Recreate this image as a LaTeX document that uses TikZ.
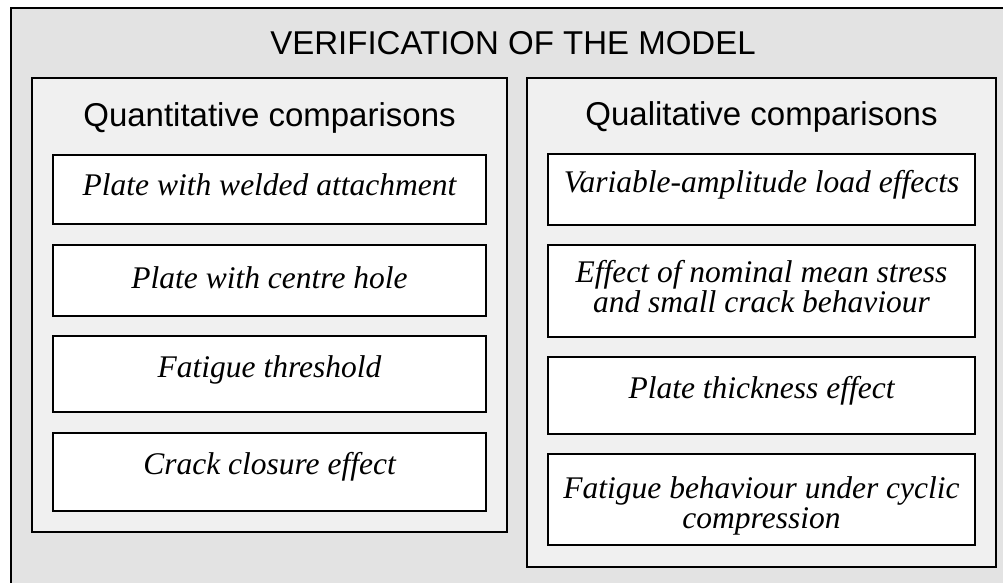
\documentclass[tikz,border=0pt]{standalone}
\usepackage{fontspec}
\setmainfont{Liberation Serif}
\newfontfamily\arialfont{Liberation Sans}
\definecolor{outergray}{RGB}{227,227,227}
\definecolor{groupgray}{RGB}{240,240,240}
\begin{document}
\begin{tikzpicture}[x=1pt,y=-1pt,
  panel/.style={draw=black, line width=1.3pt, inner sep=0pt, outer sep=0pt},
  outerpanel/.style={panel, fill=outergray, minimum width=1089pt, minimum height=652pt},
  grouppanel/.style={panel, fill=groupgray},
  itembox/.style={panel, fill=white},
  headtext/.style={font=\arialfont\fontsize{33}{38}\selectfont, anchor=base, inner sep=0pt},
  itemtext/.style={font=\fontsize{31.5}{30}\selectfont\itshape, anchor=base, inner sep=0pt, align=center},
]
\useasboundingbox (0,0) rectangle (1003,583);
\clip (0,0) rectangle (1003,583);
\fill[white] (0,0) rectangle (1003,583);
\node[outerpanel] (outer) at (555.5,334) {};
\node[headtext] (title) at (513,55) {VERIFICATION OF THE MODEL};
% groups
\node[grouppanel, minimum width=475pt, minimum height=454pt] (quant) at (269.5,305) {};
\node[grouppanel, minimum width=469pt, minimum height=489pt] (qual) at (761.5,322.5) {};
\node[headtext] (quanthead) at (269.5,126) {Quantitative comparisons};
\node[headtext] (qualhead) at (761.5,125) {Qualitative comparisons};
% left boxes
\node[itembox, minimum width=433pt, minimum height=69pt] (l1) at (269.5,189.5) {};
\node[itembox, minimum width=433pt, minimum height=71pt] (l2) at (269.5,280.5) {};
\node[itembox, minimum width=433pt, minimum height=76pt] (l3) at (269.5,374) {};
\node[itembox, minimum width=433pt, minimum height=78pt] (l4) at (269.5,472) {};
\node[itemtext] (l1t) at (269.5,195) {Plate with welded attachment};
\node[itemtext] (l2t) at (269.5,288) {Plate with centre hole};
\node[itemtext] (l3t) at (269.5,377) {Fatigue threshold};
\node[itemtext] (l4t) at (269.5,474) {Crack closure effect};
% right boxes
\node[itembox, minimum width=427pt, minimum height=71pt] (r1) at (761.5,189.5) {};
\node[itembox, minimum width=427pt, minimum height=92pt] (r2) at (761.5,291) {};
\node[itembox, minimum width=427pt, minimum height=77pt] (r3) at (761.5,395.5) {};
\node[itembox, minimum width=427pt, minimum height=91pt] (r4) at (761.5,499.5) {};
\node[itemtext] (r1t) at (761.5,192) {Variable-amplitude load effects};
\node[itemtext] (r2t) at (761.5,312) {Effect of nominal mean stress\\and small crack behaviour};
\node[itemtext] (r3t) at (761.5,398) {Plate thickness effect};
\node[itemtext] (r4t) at (761.5,528) {Fatigue behaviour under cyclic\\compression};
\end{tikzpicture}
\end{document}
